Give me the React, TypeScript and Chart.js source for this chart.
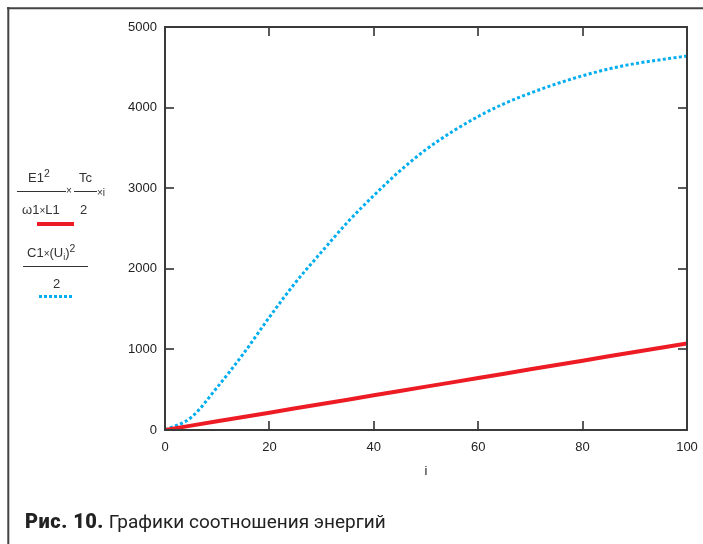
import React, { useEffect, useRef } from "react";
import { Chart, registerables } from "chart.js";

Chart.register(...registerables);

// ---- data ----
const iValues = [0, 5, 10, 15, 20, 25, 30, 35, 40, 45, 50, 55, 60, 65, 70, 75, 80, 85, 90, 95, 100];
const kineticValues = [0, 155, 530, 945, 1400, 1830, 2210, 2580, 2910, 3215, 3480, 3700, 3890, 4050, 4180, 4295, 4395, 4480, 4545, 4595, 4640];
const inductiveValues = [0, 54, 108, 161, 215, 269, 323, 376, 430, 484, 538, 591, 645, 699, 753, 806, 860, 914, 968, 1021, 1075];
const xTicks = [0, 20, 40, 60, 80, 100];
const yTicks = [0, 1000, 2000, 3000, 4000, 5000];
const xTitle = "i";
const captionBold = "Рис. 10.";
const captionText = "Графики соотношения энергий";

const RED = "#ED1C24";
const BLUE = "#00AEEF";
const FONT = "'Liberation Sans', Arial, Helvetica, sans-serif";

const framePlugin = {
  id: "framePlugin",
  afterDraw(chart: any) {
    const { ctx, chartArea, scales } = chart;
    const { left, right, top, bottom } = chartArea;
    const x = scales.x;
    const y = scales.y;
    ctx.save();
    // inward ticks
    ctx.strokeStyle = "#5a5a5a";
    ctx.lineWidth = 2;
    ctx.beginPath();
    for (const v of xTicks) {
      if (v === xTicks[0] || v === xTicks[xTicks.length - 1]) continue;
      const px = Math.round(x.getPixelForValue(v));
      ctx.moveTo(px, bottom);
      ctx.lineTo(px, bottom - 9);
      ctx.moveTo(px, top);
      ctx.lineTo(px, top + 9);
    }
    for (const v of yTicks) {
      if (v === yTicks[0] || v === yTicks[yTicks.length - 1]) continue;
      const py = Math.round(y.getPixelForValue(v));
      ctx.moveTo(left, py);
      ctx.lineTo(left + 9, py);
      ctx.moveTo(right, py);
      ctx.lineTo(right - 9, py);
    }
    ctx.stroke();
    // plot frame
    ctx.strokeStyle = "#3a3a3a";
    ctx.lineWidth = 2;
    ctx.strokeRect(left, top, right - left, bottom - top);
    // page frame
    ctx.strokeStyle = "#444";
    ctx.lineWidth = 2;
    ctx.beginPath();
    ctx.moveTo(7, 8.3);
    ctx.lineTo(chart.width, 8.3);
    ctx.moveTo(8.3, 7);
    ctx.lineTo(8.3, chart.height);
    ctx.stroke();
    ctx.restore();
  },
};

const txt: React.CSSProperties = {
  position: "absolute",
  fontFamily: FONT,
  fontSize: 13,
  lineHeight: "13px",
  color: "#333",
  whiteSpace: "nowrap",
};

const hline = (l: number, t: number, w: number): React.CSSProperties => ({
  position: "absolute",
  left: l,
  top: t,
  width: w,
  height: 1,
  background: "#333",
});

export default function App() {
  const ref = useRef<HTMLCanvasElement | null>(null);

  useEffect(() => {
    if (!ref.current) return;
    const chart = new Chart(ref.current, {
      type: "line",
      data: {
        labels: iValues,
        datasets: [
          {
            label: "inductive",
            data: iValues.map((v, k) => ({ x: v, y: inductiveValues[k] })),
            borderColor: RED,
            borderWidth: 4,
            pointRadius: 0,
            tension: 0,
            fill: false,
          },
          {
            label: "kinetic",
            data: iValues.map((v, k) => ({ x: v, y: kineticValues[k] })),
            borderColor: BLUE,
            borderWidth: 3,
            borderDash: [3, 2.4],
            borderCapStyle: "butt",
            pointRadius: 0,
            cubicInterpolationMode: "monotone",
            fill: false,
          },
        ],
      },
      options: {
        animation: false,
        responsive: false,
        maintainAspectRatio: false,
        events: [],
        layout: { padding: { left: 0, right: 16, top: 27, bottom: 0 } },
        plugins: {
          legend: { display: false },
          tooltip: { enabled: false },
        },
        scales: {
          x: {
            type: "linear",
            min: xTicks[0],
            max: xTicks[xTicks.length - 1],
            afterBuildTicks: (s: any) => {
              s.ticks = xTicks.map((v) => ({ value: v }));
            },
            afterFit: (s: any) => {
              s.height = 114;
              s.paddingLeft = 0;
              s.paddingRight = 0;
            },
            grid: { display: false, drawTicks: false },
            border: { display: false },
            ticks: {
              font: { family: FONT, size: 13 },
              color: "#222",
              padding: 10,
              maxRotation: 0,
              autoSkip: false,
              callback: (v: any) => String(v),
            },
            title: {
              display: true,
              text: xTitle,
              font: { family: FONT, size: 13 },
              color: "#222",
              padding: { top: 0, bottom: 65 },
            },
          },
          y: {
            type: "linear",
            min: yTicks[0],
            max: yTicks[yTicks.length - 1],
            afterBuildTicks: (s: any) => {
              s.ticks = yTicks.map((v) => ({ value: v }));
            },
            afterFit: (s: any) => {
              s.width = 165;
              s.paddingTop = 0;
              s.paddingBottom = 0;
            },
            grid: { display: false, drawTicks: false },
            border: { display: false },
            ticks: {
              font: { family: FONT, size: 13 },
              color: "#222",
              padding: 8,
              autoSkip: false,
              callback: (v: any) => String(v),
            },
          },
        },
      },
      plugins: [framePlugin],
    });
    return () => chart.destroy();
  }, []);

  return (
    <div style={{ position: "absolute", left: 0, top: 0, width: 703, height: 544, background: "#fff", overflow: "hidden" }}>
      <canvas ref={ref} width={703} height={544} style={{ position: "absolute", left: 0, top: 0, width: 703, height: 544 }} />

      {/* legend entry 1 */}
      <div style={{ ...txt, left: 28, top: 170.5 }}>
        E1<span style={{ fontSize: 10.5, position: "relative", top: -5 }}>2</span>
      </div>
      <div style={hline(17, 191, 49)} />
      <div style={{ ...txt, left: 66, top: 186, fontSize: 10, lineHeight: "10px" }}>×</div>
      <div style={{ ...txt, left: 79, top: 170.5 }}>Tc</div>
      <div style={hline(74, 191, 23)} />
      <div style={{ ...txt, left: 97, top: 188, fontSize: 10, lineHeight: "10px" }}>×i</div>
      <div style={{ ...txt, left: 22, top: 202.5 }}>
        ω1<span style={{ fontSize: 10 }}>×</span>L1
      </div>
      <div style={{ ...txt, left: 80, top: 202.5 }}>2</div>
      <div style={{ position: "absolute", left: 37, top: 221.5, width: 37, height: 4, background: RED }} />

      {/* legend entry 2 */}
      <div style={{ ...txt, left: 27, top: 246 }}>
        C1<span style={{ fontSize: 10 }}>×</span>(U<span style={{ fontSize: 9, position: "relative", top: 3 }}>i</span>)
        <span style={{ fontSize: 10.5, position: "relative", top: -5 }}>2</span>
      </div>
      <div style={hline(23, 266, 65)} />
      <div style={{ ...txt, left: 53, top: 277 }}>2</div>
      <div
        style={{
          position: "absolute",
          left: 39,
          top: 294.5,
          width: 35,
          height: 3,
          background: `repeating-linear-gradient(to right, ${BLUE} 0px, ${BLUE} 3px, transparent 3px, transparent 5px)`,
        }}
      />

      {/* caption */}
      <div
        style={{
          position: "absolute",
          left: 25,
          top: 509,
          fontFamily: "Roboto, 'Noto Sans', sans-serif",
          fontSize: 19,
          lineHeight: "24px",
          color: "#222",
          whiteSpace: "nowrap",
        }}
      >
        <b style={{ fontWeight: 900, fontSize: 20, letterSpacing: 0.5 }}>{captionBold}</b> {captionText}
      </div>
    </div>
  );
}
